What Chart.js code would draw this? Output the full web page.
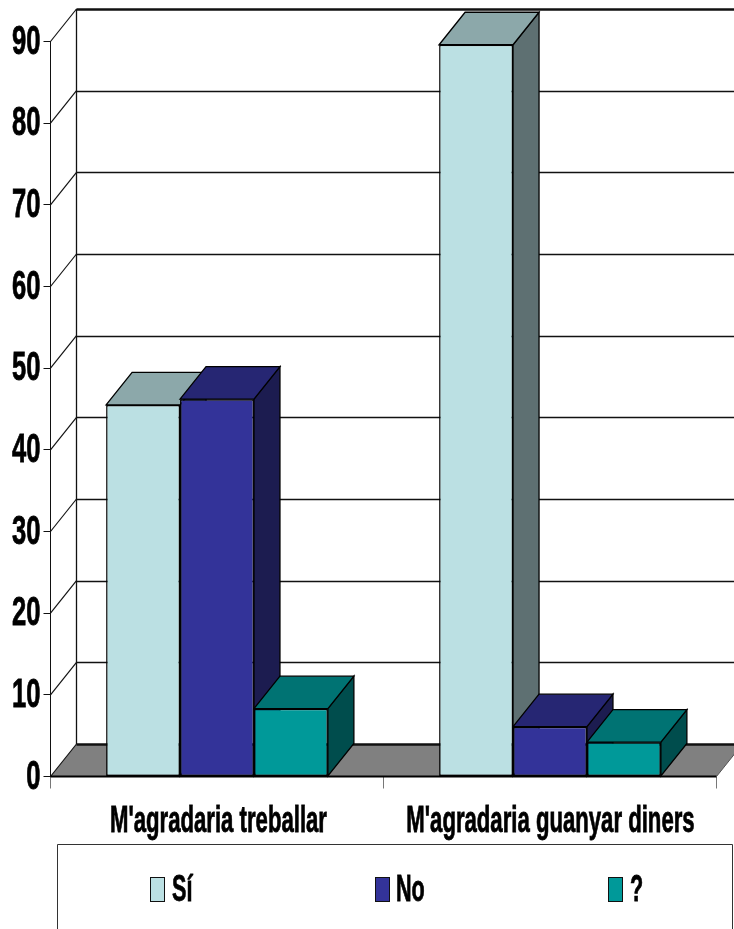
<!DOCTYPE html>
<html><head><meta charset="utf-8">
<style>html,body{margin:0;padding:0;background:#fff;overflow:hidden}canvas{display:block}</style>
<script src="https://cdn.jsdelivr.net/npm/chart.js@4"></script></head>
<body><canvas id="c" width="734" height="929"></canvas>
<script>
const categories = ["M'agradaria treballar", "M'agradaria guanyar diners"];
const seriesNames = ["Sí", "No", "?"];
const siValues = [45.5, 89.6];
const noValues = [46.2, 6.1];
const unknownValues = [8.3, 4.2];
const frontColors = ["#BBE0E3", "#333399", "#009999"];
const topColors = ["#8CA8AA", "#262673", "#007373"];
const sideColors = ["#5E7072", "#1C1C50", "#004D4D"];

const DX = 26, DY = -32.5;
const FONT = '"Liberation Sans Narrow","Liberation Sans",Arial,sans-serif';

function poly(ctx, pts, fill, stroke, lw) {
  ctx.beginPath();
  pts.forEach((p, i) => i ? ctx.lineTo(p[0], p[1]) : ctx.moveTo(p[0], p[1]));
  ctx.closePath();
  if (fill) { ctx.fillStyle = fill; ctx.fill(); }
  if (stroke) { ctx.strokeStyle = stroke; ctx.lineWidth = lw || 1; ctx.stroke(); }
}
function squeezed(ctx, text, x, y, size, sx, align) {
  ctx.save();
  ctx.font = 'bold ' + size + 'px ' + FONT;
  ctx.fillStyle = '#000';
  ctx.strokeStyle = '#000';
  ctx.lineWidth = 0.8;
  ctx.textBaseline = 'middle';
  ctx.textAlign = align;
  ctx.translate(x, y);
  ctx.scale(sx, 1);
  ctx.fillText(text, 0, 0);
  ctx.strokeText(text, 0, 0);
  ctx.restore();
}

const scene3d = {
  id: 'scene3d',
  beforeDatasetsDraw(chart) {
    const ctx = chart.ctx, a = chart.chartArea, ys = chart.scales.y;
    const y0 = ys.getPixelForValue(0);
    ctx.save();
    ctx.beginPath(); ctx.rect(0, 0, 734, 929); ctx.clip();
    // floor
    poly(ctx, [[a.left, y0], [a.left + DX, y0 + DY], [a.right + DX, y0 + DY], [a.right, y0]], '#808080');
    // back wall grid and diagonals from the scale's ticks
    ys.ticks.forEach(t => {
      const y = ys.getPixelForValue(t.value);
      const top = t.value === ys.max, bottom = t.value === ys.min;
      ctx.strokeStyle = '#111';
      ctx.lineWidth = (top || bottom) ? 2.5 : 1.3;
      const gy = Math.round(y + DY) + 0.5;
      ctx.beginPath();
      ctx.moveTo(a.left + DX, gy); ctx.lineTo(a.right + DX, gy); ctx.stroke();
      ctx.lineWidth = 1.2;
      ctx.beginPath();
      ctx.moveTo(a.left, y); ctx.lineTo(a.left + DX, y + DY); ctx.stroke();
    });
    ctx.lineWidth = 1.3; ctx.strokeStyle = '#111';
    ctx.beginPath();
    ctx.moveTo(a.left + DX, ys.getPixelForValue(ys.max) + DY);
    ctx.lineTo(a.left + DX, y0 + DY); ctx.stroke();
    // right edge of floor
    ctx.strokeStyle = '#555'; ctx.lineWidth = 1;
    ctx.beginPath(); ctx.moveTo(a.right, y0); ctx.lineTo(a.right + DX, y0 + DY); ctx.stroke();
    // depth faces of the bars, back series first
    chart.data.datasets.forEach((ds, i) => {
      chart.getDatasetMeta(i).data.forEach(b => {
        const l = b.x - b.width / 2, r = b.x + b.width / 2, t = b.y, g = b.base;
        poly(ctx, [[r, t], [r + DX, t + DY], [r + DX, g + DY], [r, g]], sideColors[i], '#000', 1.3);
        poly(ctx, [[l, t], [l + DX, t + DY], [r + DX, t + DY], [r, t]], topColors[i], '#000', 1.3);
      });
    });
    ctx.restore();
  },
  afterDatasetsDraw(chart) {
    const ctx = chart.ctx, a = chart.chartArea, ys = chart.scales.y, xs = chart.scales.x;
    const y0 = ys.getPixelForValue(0);
    ctx.save();
    ctx.strokeStyle = '#000'; ctx.lineWidth = 2;
    ctx.beginPath(); ctx.moveTo(a.left, y0); ctx.lineTo(a.right, y0); ctx.stroke();
    ctx.restore();
    // tick labels, from the scale
    ys.ticks.forEach(t => squeezed(ctx, String(t.value), 40.5, ys.getPixelForValue(t.value) + 1, 40, 0.64, 'right'));
    categories.forEach((c, i) => squeezed(ctx, c, xs.getPixelForValue(i) + (i ? 0.5 : 1.5), 822, 36, 0.615, 'center'));
    // legend
    ctx.save();
    ctx.strokeStyle = '#333'; ctx.lineWidth = 1;
    ctx.beginPath(); ctx.moveTo(57.5, 935); ctx.lineTo(57.5, 844.5); ctx.lineTo(732.5, 844.5); ctx.lineTo(732.5, 935); ctx.stroke();
    ctx.restore();
    const boxX = [150.5, 375.5, 608.5], textX = [172, 396, 630];
    seriesNames.forEach((n, i) => {
      ctx.fillStyle = frontColors[i]; ctx.strokeStyle = '#111'; ctx.lineWidth = 1;
      ctx.fillRect(boxX[i], 877.5, 14, 24); ctx.strokeRect(boxX[i], 877.5, 14, 24);
      squeezed(ctx, n, textX[i], 891, 36, 0.6, 'left');
    });
  }
};

new Chart(document.getElementById('c'), {
  type: 'bar',
  data: {
    labels: categories,
    datasets: [siValues, noValues, unknownValues].map((v, i) => ({
      label: seriesNames[i], data: v,
      backgroundColor: frontColors[i],
      borderColor: '#000', borderWidth: 1.5, borderSkipped: false,
      categoryPercentage: 0.666, barPercentage: 1
    }))
  },
  options: {
    responsive: false, animation: false, devicePixelRatio: 1,
    layout: { padding: { top: 41.5, right: 17.5, left: 0, bottom: 0 } },
    plugins: { legend: { display: false }, tooltip: { enabled: false }, title: { display: false } },
    scales: {
      x: {
        ticks: { display: false },
        grid: { drawOnChartArea: false, drawTicks: true, tickLength: 12, color: '#777', lineWidth: 1 },
        border: { display: false },
        afterFit(s) { s.height = 152.5; }
      },
      y: {
        min: 0, max: 90,
        ticks: { display: false, stepSize: 10 },
        grid: { drawOnChartArea: false, drawTicks: true, tickLength: 7, color: '#111', lineWidth: 1 },
        border: { display: true, color: '#111', width: 1 },
        afterFit(s) { s.width = 50.5; }
      }
    }
  },
  plugins: [scene3d]
});
</script></body></html>
